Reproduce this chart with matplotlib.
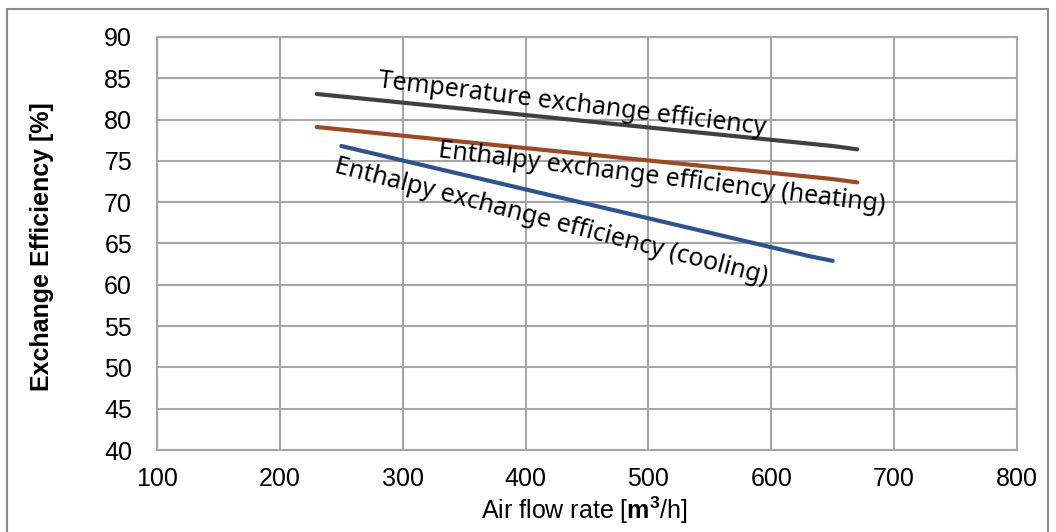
import matplotlib
matplotlib.use('Agg')
import matplotlib.pyplot as plt
from matplotlib.patches import Rectangle

plt.rcParams['font.family'] = ['Liberation Sans', 'DejaVu Sans']
plt.rcParams['mathtext.fontset'] = 'custom'
plt.rcParams['mathtext.rm'] = 'Liberation Sans'
plt.rcParams['mathtext.bf'] = 'Liberation Sans:bold'

# Air flow rate [m3/h]
flow_temp = [230, 250, 270, 290, 310, 330, 350, 370, 390, 410, 430, 450,
             470, 490, 510, 530, 550, 570, 590, 610, 630, 650, 670]
temp_eff = [83.1, 82.8, 82.5, 82.2, 81.9, 81.6, 81.3, 81.0, 80.7, 80.4, 80.1, 79.8,
            79.5, 79.2, 78.9, 78.6, 78.3, 78.0, 77.7, 77.4, 77.1, 76.8, 76.4]
heat_eff = [79.1, 78.8, 78.5, 78.2, 77.9, 77.6, 77.3, 77.0, 76.7, 76.4, 76.1, 75.8,
            75.5, 75.2, 74.9, 74.6, 74.3, 74.0, 73.7, 73.4, 73.1, 72.8, 72.4]
flow_cool = [250, 270, 290, 310, 330, 350, 370, 390, 410, 430, 450,
             470, 490, 510, 530, 550, 570, 590, 610, 630, 650]
cool_eff = [76.8, 76.1, 75.4, 74.7, 74.0, 73.3, 72.6, 71.9, 71.2, 70.5, 69.8,
            69.1, 68.4, 67.7, 67.0, 66.3, 65.6, 64.9, 64.2, 63.5, 62.9]

fig = plt.figure(figsize=(10.56, 5.32), dpi=100)
ax = fig.add_axes([0.1487, 0.1541, 0.963 - 0.1487, 0.9305 - 0.1541])

# outer frame of the chart
fig.patches.append(Rectangle((7 / 1056, -0.05), 1041 / 1056, 1.05 - 9 / 532,
                             transform=fig.transFigure, fill=False,
                             edgecolor='#8c8c8c', linewidth=1.5))

ax.plot(flow_temp, temp_eff, color='#404040', lw=3, solid_capstyle='round', zorder=3)
ax.plot(flow_temp, heat_eff, color='#9c4a26', lw=3, solid_capstyle='round', zorder=3)
ax.plot(flow_cool, cool_eff, color='#2e5490', lw=3, solid_capstyle='round', zorder=3)

lbl = dict(family=['Noto Sans', 'DejaVu Sans'], fontsize=18, ha='center', va='center',
           rotation_mode='anchor')
ax.text(438, 81.8, 'Temperature exchange efficiency', rotation=-7, **lbl)
ax.text(511, 72.9, 'Enthalpy exchange efficiency (heating)', rotation=-7, **lbl)
ax.text(421, 67.6, 'Enthalpy exchange efficiency (cooling)', rotation=-14.5, **lbl)

ax.set_xlim(100, 800)
ax.set_ylim(40, 90)
ax.set_xticks(range(100, 801, 100))
ax.set_yticks(range(40, 91, 5))
ax.grid(True, color='#a6a6a6', linewidth=1.5)
ax.set_axisbelow(True)
for s in ax.spines.values():
    s.set_color('#a6a6a6')
    s.set_linewidth(1.5)
ax.tick_params(axis='y', length=0, labelsize=18, pad=18)
ax.tick_params(axis='x', length=0, labelsize=18, pad=12)

fig.text(584 / 1056, 1 - 510 / 532, r'Air flow rate [$\mathbf{m^3}$/h]', fontsize=18,
         ha='center', va='center')
fig.text(42 / 1056, 1 - 247 / 532, 'Exchange Efficiency [%]', fontsize=18,
         fontweight='bold', rotation=90, ha='center', va='center')

fig.savefig('out.png', dpi=100)
